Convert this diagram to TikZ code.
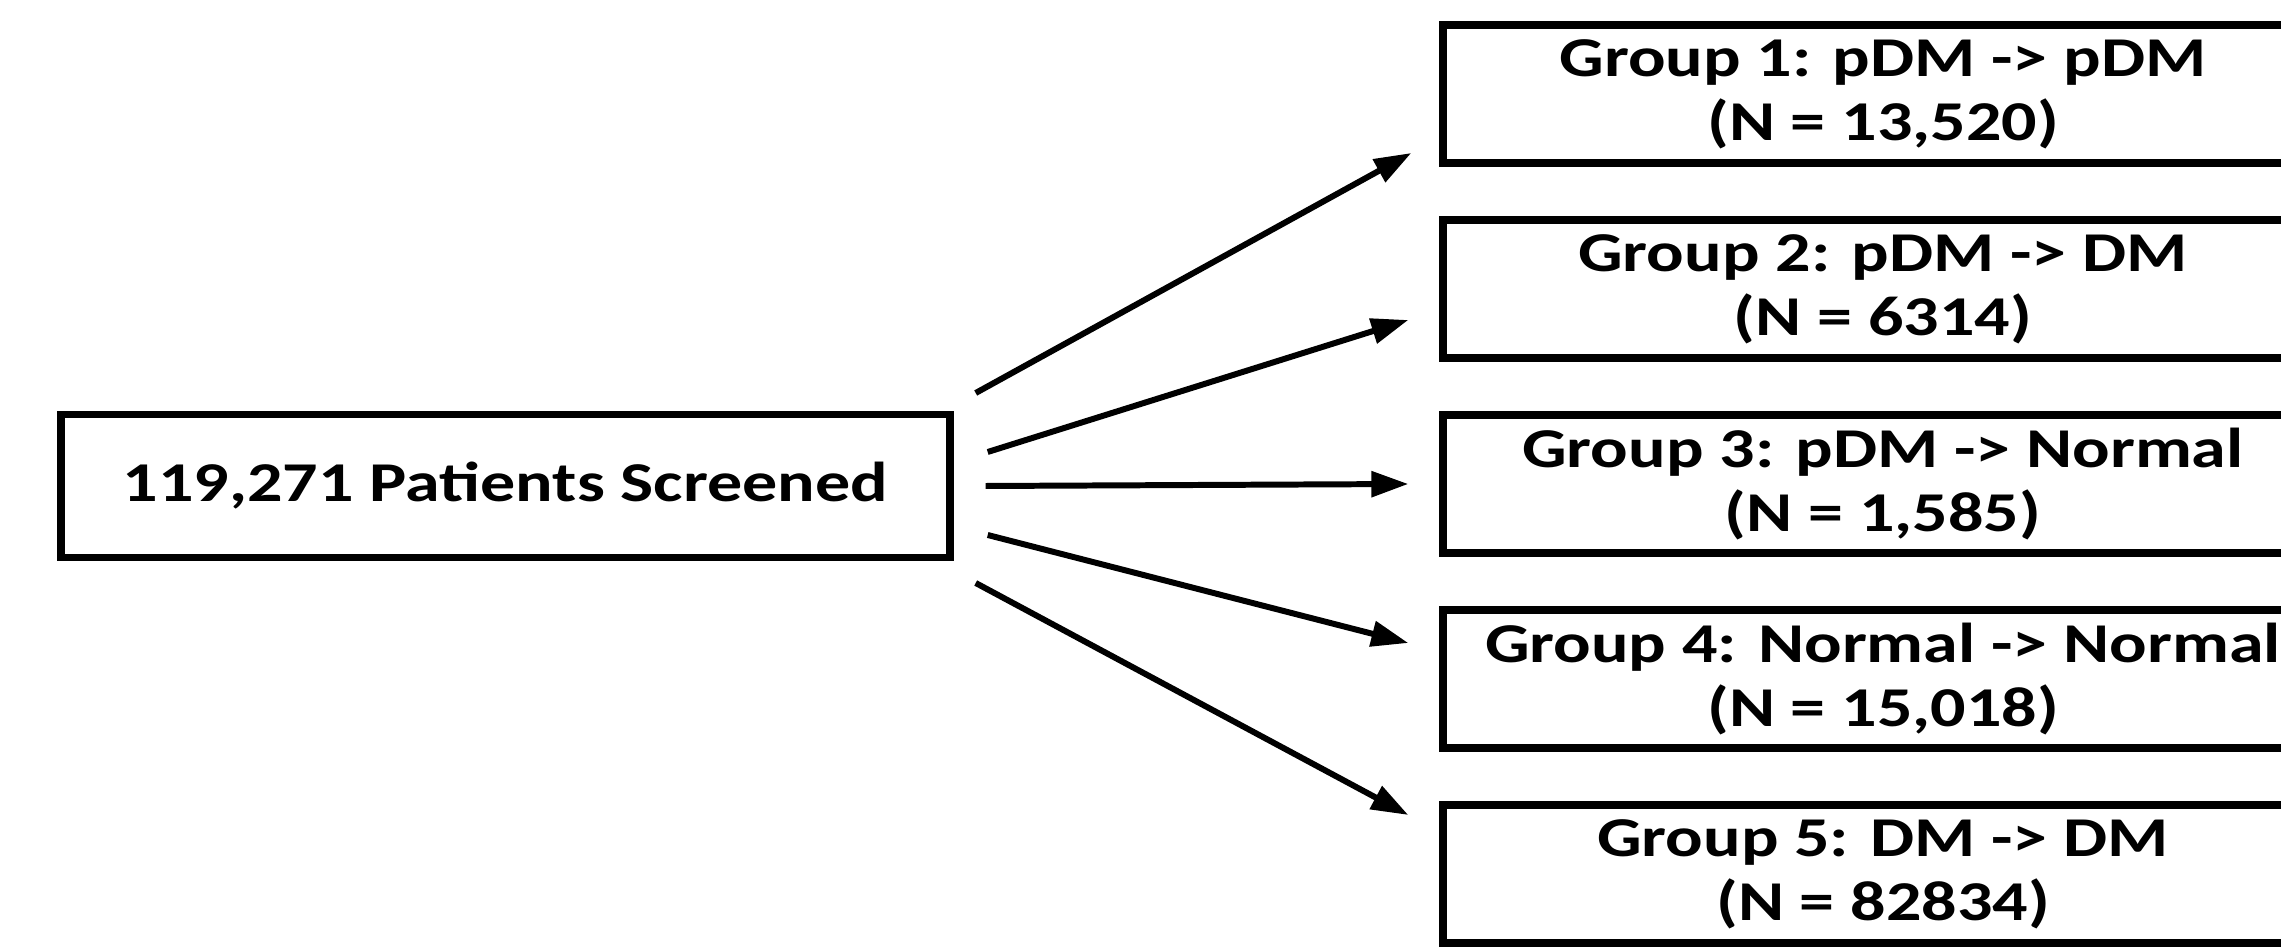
\documentclass[tikz,border=0pt]{standalone}
\usepackage{fontspec}
\setmainfont{Carlito}[FakeStretch=1.245]
\usetikzlibrary{arrows.meta,positioning}
\begin{document}
\begin{tikzpicture}
            [box/.style = {draw, line width=2.1pt, minimum width=8.8cm, minimum height=1.38cm,
                           align=center, inner sep=0pt, font=\bfseries\fontsize{16}{18.3}\selectfont},
             arr/.style = {line width=1.7pt, -{Triangle[length=0.37cm, width=0.25cm]}},
             node distance = 1.95cm]
            \useasboundingbox (0,0) rectangle (22.81,9.47);
            \clip (0,0) rectangle (22.81,9.47);
            \node[box, minimum width=8.89cm, minimum height=1.43cm] (src) at (5.055,4.61) {119,271 Patients Screened};
            \node[box] (g1) at (18.83,8.53) {Group 1: pDM -> pDM\\(N = 13,520)};
            \node[box] (g2) [below of=g1] {Group 2: pDM -> DM\\(N = 6314)};
            \node[box] (g3) [below of=g2] {Group 3: pDM -> Normal\\(N = 1,585)};
            \node[box] (g4) [below of=g3] {Group 4: Normal -> Normal\\(N = 15,018)};
            \node[box] (g5) [below of=g4] {Group 5: DM -> DM\\(N = 82834)};
            \draw[arr] ([xshift=0.22cm, yshift=0.93cm]src.east) -- ([xshift=-0.28cm, yshift=-0.59cm]g1.west);
            \draw[arr] ([xshift=0.34cm, yshift=0.34cm]src.east) -- ([xshift=-0.31cm, yshift=-0.31cm]g2.west);
            \draw[arr] ([xshift=0.32cm]src.east) -- ([xshift=-0.31cm]g3.west);
            \draw[arr] ([xshift=0.34cm, yshift=-0.49cm]src.east) -- ([xshift=-0.31cm, yshift=0.36cm]g4.west);
            \draw[arr] ([xshift=0.22cm, yshift=-0.97cm]src.east) -- ([xshift=-0.31cm, yshift=0.59cm]g5.west);
        \end{tikzpicture}
\end{document}
